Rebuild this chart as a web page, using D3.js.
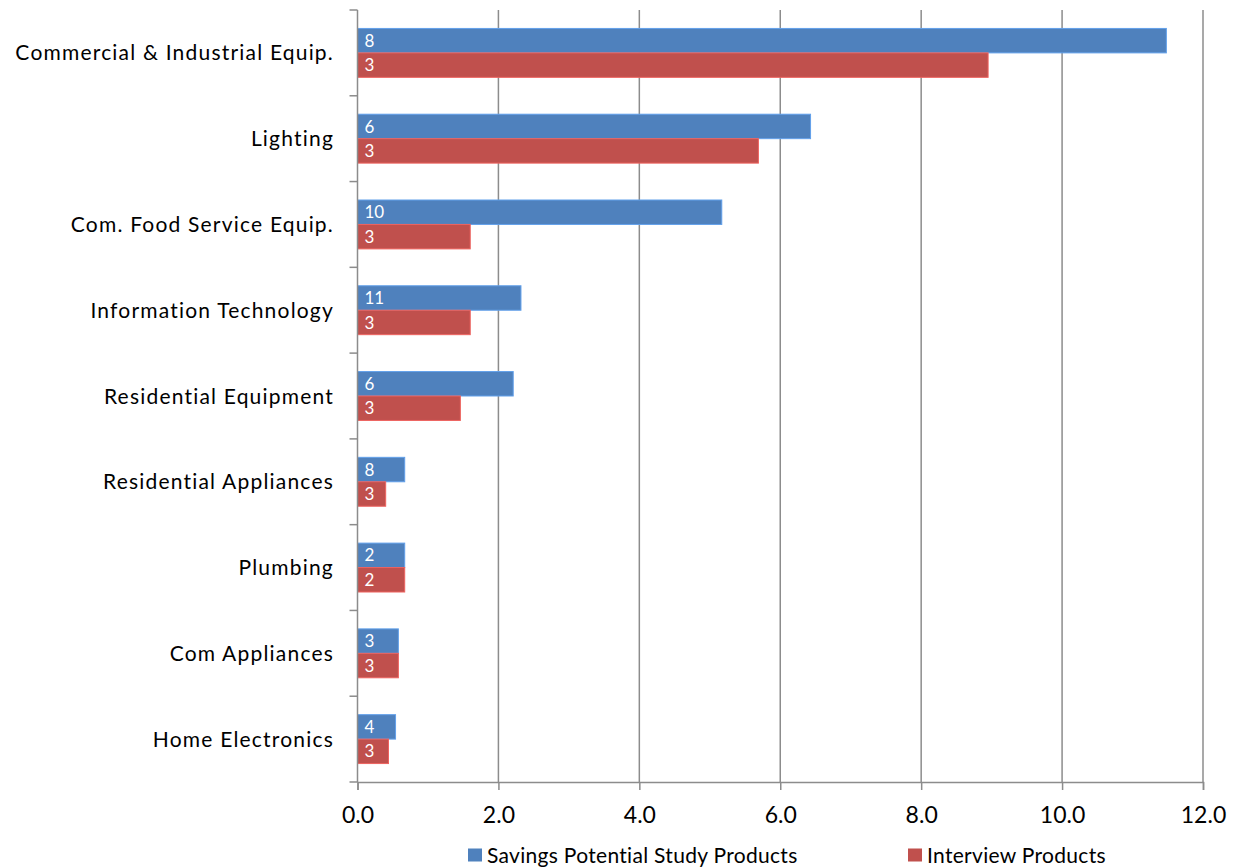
<!DOCTYPE html>
<html>
<head>
<meta charset="utf-8">
<script src="https://cdn.jsdelivr.net/npm/d3@7"></script>
<style>
  html, body { margin: 0; padding: 0; background: #fff; }
  svg { display: block; font-family: Lato, "Open Sans", sans-serif; }
</style>
</head>
<body>
<svg id="chart" width="1237" height="867"></svg>
<script>
// Product categories, top to bottom
const categories = [
  "Commercial & Industrial Equip.",
  "Lighting",
  "Com. Food Service Equip.",
  "Information Technology",
  "Residential Equipment",
  "Residential Appliances",
  "Plumbing",
  "Com Appliances",
  "Home Electronics"
];
const seriesNames = ["Savings Potential Study Products", "Interview Products"];
// Bar lengths
const savingsValues   = [11.48, 6.43, 5.17, 2.32, 2.21, 0.67, 0.67, 0.58, 0.54];
const interviewValues = [8.95, 5.69, 1.60, 1.60, 1.46, 0.40, 0.67, 0.58, 0.44];
// Product counts shown inside bars
const savingsCounts   = [8, 6, 10, 11, 6, 8, 2, 3, 4];
const interviewCounts = [3, 3, 3, 3, 3, 3, 2, 3, 3];
const xTicks = [0, 2, 4, 6, 8, 10, 12];
const colors = ["#4F81BD", "#C0504D"];

const svg = d3.select("#chart");
const plotLeft = 357.5, plotRight = 1203, plotTop = 10, plotBottom = 782;

const x = d3.scaleLinear().domain([0, 12]).range([plotLeft, plotRight]);
const y0 = d3.scaleBand().domain(categories).range([plotTop, plotBottom])
  .paddingInner(0.43).paddingOuter(0.215);
const y1 = d3.scaleBand().domain(seriesNames).range([0, y0.bandwidth()]);

const rows = categories.map((c, i) => ({
  cat: c,
  bars: [
    { s: seriesNames[0], v: savingsValues[i], n: savingsCounts[i], col: colors[0] },
    { s: seriesNames[1], v: interviewValues[i], n: interviewCounts[i], col: colors[1] }
  ]
}));

// Vertical gridlines
svg.append("g").selectAll("line")
  .data(xTicks.filter(t => t > 0))
  .join("line")
  .attr("x1", d => x(d)).attr("x2", d => x(d))
  .attr("y1", plotTop).attr("y2", plotBottom)
  .attr("stroke", "#8c8c8c").attr("stroke-width", 1.5);

// Bars
const groups = svg.append("g").selectAll("g")
  .data(rows).join("g")
  .attr("transform", d => `translate(0,${y0(d.cat)})`);

groups.selectAll("rect")
  .data(d => d.bars).join("rect")
  .attr("x", x(0))
  .attr("y", d => y1(d.s))
  .attr("width", d => x(d.v) - x(0))
  .attr("height", y1.bandwidth())
  .attr("fill", d => d.col)
  .attr("stroke", d => d3.color(d.col).brighter(0.6))
  .attr("stroke-width", 1);

groups.selectAll("text")
  .data(d => d.bars).join("text")
  .attr("x", x(0) + 7)
  .attr("y", d => y1(d.s) + y1.bandwidth() / 2)
  .attr("dy", "0.36em")
  .attr("fill", "#fff")
  .attr("font-size", 17)
  .text(d => d.n);

// Y axis line and ticks at category boundaries
const yAxis = svg.append("g");
yAxis.append("line")
  .attr("x1", plotLeft).attr("x2", plotLeft).attr("y1", plotTop).attr("y2", plotBottom)
  .attr("stroke", "#8c8c8c").attr("stroke-width", 1.5);
const boundaries = categories.map(c => y0(c) - y0.step() * y0.paddingInner() / 2);
boundaries.push(plotBottom);
yAxis.selectAll("line.tick").data(boundaries).join("line")
  .attr("class", "tick")
  .attr("x1", plotLeft - 8).attr("x2", plotLeft)
  .attr("y1", d => d).attr("y2", d => d)
  .attr("stroke", "#8c8c8c").attr("stroke-width", 1.5);

// Category labels
svg.append("g").selectAll("text")
  .data(categories).join("text")
  .attr("x", 334)
  .attr("y", d => y0(d) + y0.bandwidth() / 2)
  .attr("dy", "0.36em")
  .attr("text-anchor", "end")
  .attr("font-size", 21)
  .attr("letter-spacing", 1.2)
  .attr("fill", "#000")
  .text(d => d);

// X axis
const xAxis = svg.append("g").attr("transform", `translate(0,${plotBottom})`)
  .call(d3.axisBottom(x).tickValues(xTicks).tickFormat(d3.format(".1f")).tickSize(8).tickPadding(17));
xAxis.select(".domain").attr("stroke", "#8c8c8c").attr("stroke-width", 1.5);
xAxis.selectAll(".tick line").attr("stroke", "#8c8c8c").attr("stroke-width", 1.5);
xAxis.selectAll(".tick text").attr("font-size", 23).attr("fill", "#000")
  .attr("font-family", "Lato, sans-serif");

// Legend
const legendX = [468, 908];
const legend = svg.append("g").selectAll("g")
  .data(seriesNames).join("g")
  .attr("transform", (d, i) => `translate(${legendX[i]},855)`);
legend.append("rect")
  .attr("x", 0).attr("y", -6.5).attr("width", 14).attr("height", 13)
  .attr("fill", (d, i) => colors[i]);
legend.append("text")
  .attr("x", 19).attr("dy", "0.36em")
  .attr("font-size", 21)
  .attr("letter-spacing", 0.3)
  .attr("fill", "#000")
  .text(d => d);
</script>
</body>
</html>
